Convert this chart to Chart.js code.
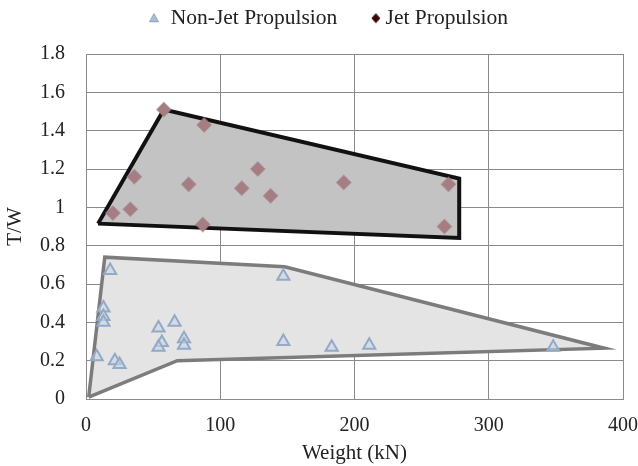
<!DOCTYPE html>
<html>
<head>
<meta charset="utf-8">
<script src="https://cdn.jsdelivr.net/npm/chart.js@4.4.1/dist/chart.umd.min.js"></script>
<style>
  html, body { margin: 0; padding: 0; background: #fff; }
  #wrap { width: 638px; height: 466px; }
</style>
</head>
<body>
<div id="wrap"><canvas id="chart" width="638" height="466"></canvas></div>
<script>
// Weight (kN) and thrust-to-weight ratio for each aircraft
const nonJetWeight = [18, 13, 13, 13, 8, 21.5, 25, 54, 66, 56.5, 54, 73, 73, 147, 147, 183, 211, 348];
const nonJetTW     = [0.67, 0.475, 0.43, 0.40, 0.22, 0.20, 0.18, 0.37, 0.40, 0.295, 0.27, 0.315, 0.28, 0.64, 0.30, 0.27, 0.28, 0.27];

const jetWeight = [58, 88, 36, 33, 20, 76.5, 87, 116, 128, 137.5, 192, 270, 267];
const jetTW     = [1.51, 1.43, 1.16, 0.99, 0.97, 1.12, 0.91, 1.10, 1.20, 1.06, 1.13, 1.12, 0.90];

// envelope outlines (closed: last vertex repeats the first)
const nonJetHullX = [2, 14, 148, 386, 68, 2];
const nonJetHullY = [0.01, 0.74, 0.69, 0.265, 0.20, 0.01];
const jetHullX = [9, 58, 278, 278, 9];
const jetHullY = [0.915, 1.51, 1.15, 0.84, 0.915];

const xTicks = [0, 100, 200, 300, 400];
const yMax = 1.8;

const toPoints = (xs, ys) => xs.map((x, i) => ({ x: x, y: ys[i] }));
const serif = "'Liberation Serif', 'Times New Roman', serif";

// small legend markers, drawn off-centre so the spacing to the text suits each one
function legendMarker(shape, offset) {
  const c = document.createElement('canvas');
  c.width = 60; c.height = 14;
  const g = c.getContext('2d');
  const cx = 30 + offset, cy = 7;
  g.beginPath();
  if (shape === 'triangle') {
    g.moveTo(cx, cy - 4.5);
    g.lineTo(cx + 4.5, cy + 3.5);
    g.lineTo(cx - 4.5, cy + 3.5);
    g.closePath();
    g.fillStyle = '#a9bdd3';
    g.strokeStyle = '#8ea4c0';
  } else {
    g.moveTo(cx, cy - 4.5);
    g.lineTo(cx + 4, cy);
    g.lineTo(cx, cy + 4.5);
    g.lineTo(cx - 4, cy);
    g.closePath();
    g.fillStyle = '#3d0606';
    g.strokeStyle = '#3d0606';
  }
  g.fill();
  g.lineWidth = 1;
  g.stroke();
  return c;
}
const legendMarkers = [legendMarker('triangle', 9), legendMarker('diamond', 16)];

// keeps the legend row near the top while leaving room above the plot
const legendGap = {
  id: 'legendGap',
  beforeLayout(chart) {
    const lg = chart.legend;
    if (lg && !lg._gapPatched) {
      const fit = lg.fit;
      lg.fit = function () {
        fit.call(this);
        this.height = 54;
      };
      lg._gapPatched = true;
    }
  }
};

new Chart(document.getElementById('chart'), {
  type: 'scatter',
  data: {
    datasets: [
      {
        label: 'Non-Jet Propulsion',
        data: toPoints(nonJetWeight, nonJetTW),
        pointStyle: 'triangle',
        pointRadius: 7,
        backgroundColor: 'rgba(200,214,232,0.6)',
        borderColor: '#93a9c5',
        borderWidth: 2,
        order: 1
      },
      {
        label: 'Jet Propulsion',
        data: toPoints(jetWeight, jetTW),
        pointStyle: 'rectRot',
        pointRadius: 7,
        backgroundColor: '#a57e84',
        borderColor: 'rgba(165,126,132,0.6)',
        borderWidth: 1.5,
        order: 1
      },
      {
        label: 'nonjet-hull',
        data: toPoints(nonJetHullX, nonJetHullY),
        showLine: true,
        fill: 'shape',
        backgroundColor: '#e4e4e4',
        borderColor: '#7c7c7c',
        borderWidth: 3.5,
        pointRadius: 0,
        order: 2
      },
      {
        label: 'jet-hull',
        data: toPoints(jetHullX, jetHullY),
        showLine: true,
        fill: 'shape',
        backgroundColor: '#c3c3c3',
        borderColor: '#111',
        borderWidth: 4,
        pointRadius: 0,
        order: 2
      }
    ]
  },
  options: {
    responsive: false,
    animation: false,
    layout: { padding: { left: 0, top: 0, right: 0, bottom: 0 } },
    plugins: {
      tooltip: { enabled: false },
      legend: {
        position: 'top',
        labels: {
          usePointStyle: true,
          pointStyleWidth: 30,
          padding: 7.5,
          color: '#222',
          font: { family: serif, size: 21.5 },
          generateLabels: chart => chart.data.datasets.slice(0, 2).map((ds, i) => ({
            text: ds.label,
            pointStyle: legendMarkers[i],
            fontColor: '#222',
            lineWidth: 0,
            datasetIndex: i,
            hidden: false
          }))
        }
      }
    },
    scales: {
      x: {
        type: 'linear',
        min: 0,
        max: 400,
        afterBuildTicks: axis => { axis.ticks = xTicks.map(v => ({ value: v })); },
        afterFit: axis => { axis.height = 67; axis.paddingRight = 15; },
        grid: { color: '#8a8a8a', lineWidth: 1, drawTicks: false },
        border: { color: '#8a8a8a' },
        ticks: { color: '#222', font: { family: serif, size: 20 }, padding: 15 },
        title: { display: true, text: 'Weight (kN)', color: '#222', font: { family: serif, size: 21 }, padding: 0 }
      },
      y: {
        type: 'linear',
        min: 0,
        max: yMax,
        afterFit: axis => { axis.width = 86; },
        ticks: {
          stepSize: 0.2,
          color: '#222',
          font: { family: serif, size: 20 },
          padding: 21,
          callback: v => String(Math.round(v * 10) / 10)
        },
        grid: { color: '#8a8a8a', lineWidth: 1, drawTicks: false },
        border: { color: '#8a8a8a' },
        title: { display: true, text: 'T/W', color: '#222', font: { family: serif, size: 21 }, padding: 3 }
      }
    }
  },
  plugins: [legendGap]
});
</script>
</body>
</html>
